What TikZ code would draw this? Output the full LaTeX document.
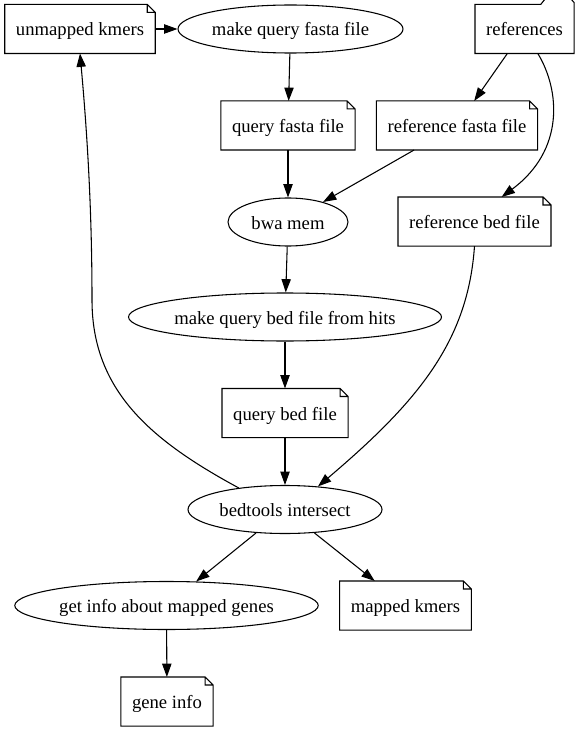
\documentclass[tikz,border=0pt]{standalone}
\usepackage{fontspec}
\setmainfont{Liberation Serif}
\usetikzlibrary{shapes.geometric}
\usetikzlibrary{arrows.meta}

\begin{document}
\begin{tikzpicture}[x=0.75pt,y=-0.75pt,line width=0.8pt]
    \tikzset{note/.style={shape=rectangle,minimum height=36pt,inner xsep=8pt,text height=13.5pt,text depth=3pt,font=\fontsize{14pt}{16pt}\selectfont}}
    \tikzset{task/.style={shape=ellipse,draw,minimum height=36pt,inner sep=0pt,text height=13.5pt,text depth=3pt,font=\fontsize{14pt}{16pt}\selectfont}}
    \tikzset{edge/.style = {->,> = {Triangle[length=10pt,width=7pt]}}}
    \useasboundingbox (0,0) rectangle (580,731);

    \node[note] (unm) at (80,29) {unmapped kmers};
    \node[task,minimum width=168.75pt] (mqf) at (290.5,29) {make query fasta file};
    \node[note] (refs) at (524.5,29) {references};
    \node[note] (qff) at (288,125.5) {query fasta file};
    \node[note] (rff) at (457,125.5) {reference fasta file};
    \node[task,minimum width=90pt] (bwa) at (288,222) {bwa mem};
    \node[note] (rbf) at (474.5,221.5) {reference bed file};
    \node[task,minimum width=229.5pt] (mqb) at (285,317) {make query bed file from hits};
    \node[note] (qbf) at (285,413) {query bed file};
    \node[task,minimum width=145.5pt] (bti) at (285,509.5) {bedtools intersect};
    \node[task,minimum width=224pt] (gim) at (166.5,605.5) {get info about mapped genes};
    \node[note] (mk) at (405.5,605.5) {mapped kmers};
    \node[note] (gi) at (167,701.5) {gene info};

    % note outlines with folded corner
    \foreach \n in {unm,qff,rff,rbf,qbf,mk,gi}
      \draw (\n.north west) -- ([xshift=-6pt]\n.north east) -- ([yshift=-6pt]\n.north east)
            -- (\n.south east) -- (\n.south west) -- cycle
            ([xshift=-6pt]\n.north east) |- ([yshift=-6pt]\n.north east);
    % folder outline
    \draw (refs.north west) -- ([xshift=-25pt]refs.north east) -- ([xshift=-22pt,yshift=3.75pt]refs.north east)
          -- ([xshift=-2pt,yshift=3.75pt]refs.north east) -- ([yshift=1.5pt]refs.north east)
          -- (refs.south east) -- (refs.south west) -- cycle;

    \draw[edge] (unm) -- (mqf);
    \draw[edge] (mqf) -- (qff);
    \draw[edge] (qff) -- (bwa);
    \draw[edge] (rff) -- (bwa);
    \draw[edge] (refs) -- (rff);
    \draw[edge] ([xshift=10pt]refs.south) .. controls (560,90) and (565,150) .. ([xshift=-37pt]rbf.north east);
    \draw[edge] (bwa) -- (mqb);
    \draw[edge] (mqb) -- (qbf);
    \draw[edge] (qbf) -- (bti);
    \draw[edge] (rbf.south) .. controls (468,340) and (420,400) .. (bti.35);
    \draw[edge] (bti.155) .. controls (150,440) and (92,390) .. (92,300)
                .. controls (92,200) and (86,120) .. (unm.south);
    \draw[edge] (bti) -- (gim);
    \draw[edge] (bti) -- (mk);
    \draw[edge] (gim) -- (gi);
\end{tikzpicture}
\end{document}
